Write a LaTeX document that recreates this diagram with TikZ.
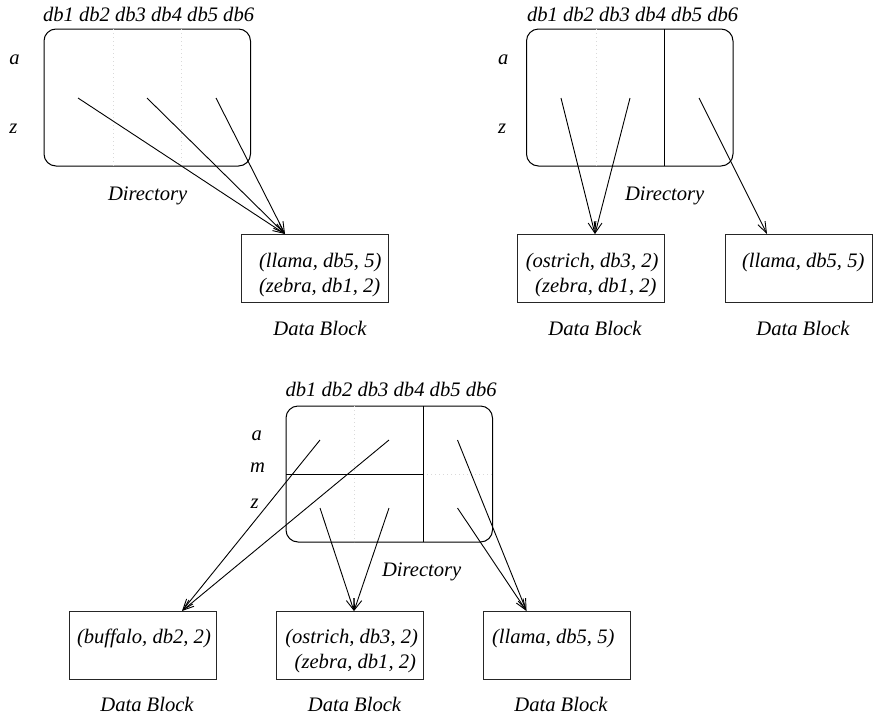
\documentclass[tikz,border=0pt]{standalone}
\usepackage{fontspec}
\setmainfont{Liberation Serif}
\usetikzlibrary{arrows.meta}
\begin{document}
\begin{tikzpicture}[x=1pt,y=-1pt,
  every node/.style={font=\fontsize{20.6}{25}\selectfont\itshape, inner sep=0pt, outer sep=0pt},
  lbl/.style={anchor=base west},
  lble/.style={anchor=base east},
  lblc/.style={anchor=base},
  dirbox/.style={draw, line width=1pt, rounded corners=12pt, minimum width=206.5pt, minimum height=137pt},
  blockbox/.style={draw=black!85, line width=1pt, minimum width=147pt, minimum height=68pt},
  part/.style={line width=1pt},
  faint/.style={draw=gray!30, line width=0.6pt, dash pattern=on 0.8pt off 3.2pt},
  ptr/.style={line width=0.9pt, -{Straight Barb[length=11pt,width=8pt]}},
]
\useasboundingbox (0,0) rectangle (873,718);

% ---------------- Panel 1 ----------------
\node[lbl] (h1) at (43,21) {db1 db2 db3 db4 db5 db6};
\node[lbl] (a1) at (9.3,64) {a};
\node[lbl] (z1) at (9.3,133) {z};
\node[dirbox] (d1) at (147.25,97.5) {};
\draw[faint] (112.8,29) -- (112.8,166);
\draw[faint] (181.7,29) -- (181.7,166);
\node[lbl] (dl1) at (108,200) {Directory};
\node[blockbox] (b1) at (315,268) {};
\node[lbl] (t11) at (259,267) {(llama, db5, 5)};
\node[lbl] (t12) at (259,292) {(zebra, db1, 2)};
\node[lblc] (bl1) at (320,335) {Data Block};
\coordinate (s11) at (78,98);
\coordinate (s12) at (147,98);
\coordinate (s13) at (216,98);
\coordinate (e1) at (285,234);
\draw[ptr] (s11) -- (e1);
\draw[ptr] (s12) -- (e1);
\draw[ptr] (s13) -- (e1);

% ---------------- Panel 2 ----------------
\node[lbl] (h2) at (527,21) {db1 db2 db3 db4 db5 db6};
\node[lbl] (a2) at (498,64) {a};
\node[lbl] (z2) at (498,133) {z};
\node[dirbox] (d2) at (629.75,97.5) {};
\draw[faint] (596,29) -- (596,166);
\draw[part] (664.3,29) -- (664.3,166);
\node[lbl] (dl2) at (625,200) {Directory};
\node[blockbox] (b2) at (590.5,268) {};
\node[blockbox] (b3) at (798.5,268) {};
\node[lble] (t21) at (658.5,267) {(ostrich, db3, 2)};
\node[lble] (t22) at (656.5,292) {(zebra, db1, 2)};
\node[lbl] (t31) at (742,267) {(llama, db5, 5)};
\node[lblc] (bl2) at (595,335) {Data Block};
\node[lblc] (bl3) at (803,335) {Data Block};
\coordinate (s21) at (561,98);
\coordinate (s22) at (630,98);
\coordinate (s23) at (699,98);
\coordinate (e2) at (595,234);
\coordinate (e3) at (767,234);
\draw[ptr] (s21) -- (e2);
\draw[ptr] (s22) -- (e2);
\draw[ptr] (s23) -- (e3);

% ---------------- Panel 3 ----------------
\node[lbl] (h3) at (285.5,396) {db1 db2 db3 db4 db5 db6};
\node[lbl] (a3) at (251.5,440.5) {a};
\node[lbl] (m3) at (250,472.5) {m};
\node[lbl] (z3) at (250.5,508.5) {z};
\node[dirbox, minimum height=136pt] (d3) at (389.25,474) {};
\draw[faint] (354.7,406) -- (354.7,542);
\draw[faint] (423.3,474) -- (492.5,474);
\draw[part] (423.3,406) -- (423.3,542);
\draw[part] (286,474) -- (423.3,474);
\node[lbl] (dl3) at (382,576) {Directory};
\node[blockbox] (b4) at (142.5,645) {};
\node[blockbox] (b5) at (350,645) {};
\node[blockbox] (b6) at (556.5,645) {};
\node[lbl] (t41) at (77,643) {(buffalo, db2, 2)};
\node[lble] (t51) at (418,643) {(ostrich, db3, 2)};
\node[lble] (t52) at (416,668) {(zebra, db1, 2)};
\node[lbl] (t61) at (492,643) {(llama, db5, 5)};
\node[lblc] (bl4) at (147,711) {Data Block};
\node[lblc] (bl5) at (354.5,711) {Data Block};
\node[lblc] (bl6) at (561,711) {Data Block};
\coordinate (s31) at (320,440);
\coordinate (s32) at (389,440);
\coordinate (s33) at (457.5,440);
\coordinate (s34) at (320,508);
\coordinate (s35) at (389,508);
\coordinate (s36) at (457.5,508);
\coordinate (e4) at (182,611);
\coordinate (e5) at (354,611);
\coordinate (e6) at (526.5,611);
\draw[ptr] (s31) -- (e4);
\draw[ptr] (s32) -- (e4);
\draw[ptr] (s34) -- (e5);
\draw[ptr] (s35) -- (e5);
\draw[ptr] (s33) -- (e6);
\draw[ptr] (s36) -- (e6);
\end{tikzpicture}
\end{document}
